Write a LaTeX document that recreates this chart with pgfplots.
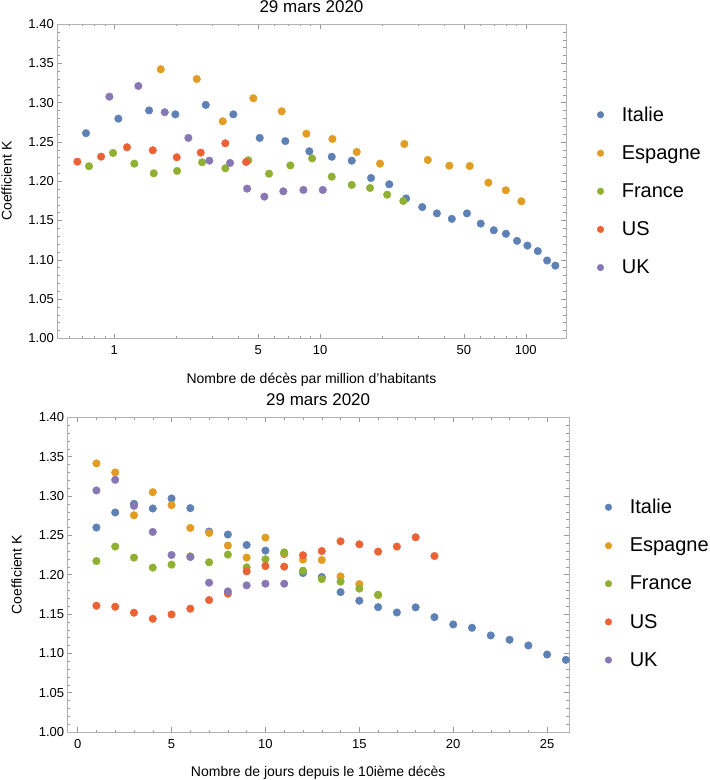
\documentclass[border=0pt]{standalone}
\usepackage{fontspec}
\setmainfont{Liberation Sans}
\usepackage{pgfplots}
\pgfplotsset{compat=1.18}

\definecolor{cIt}{rgb}{0.368417,0.506779,0.709798}
\definecolor{cEs}{rgb}{0.880722,0.611041,0.142051}
\definecolor{cFr}{rgb}{0.560181,0.691569,0.194885}
\definecolor{cUS}{rgb}{0.922526,0.385626,0.209179}
\definecolor{cUK}{rgb}{0.528488,0.470624,0.701351}

\pgfplotsset{
  every axis title shift=0pt,
  kplot/.style={
    scale only axis,
    ymin=1, ymax=1.4,
    ytick={1,1.05,1.1,1.15,1.2,1.25,1.3,1.35,1.4},
    minor y tick num=4,
    yticklabel style={/pgf/number format/.cd,fixed,fixed zerofill,precision=2},
    /pgf/number format/assume math mode=true,
    tick align=inside,
    axis line style={black!30},
    every tick/.style={black!40},
    major tick length=4.5pt, minor tick length=2.4pt,
    tick label style={font=\fontsize{13}{13}\selectfont},
    xticklabel style={yshift=-4pt},
    title style={font=\fontsize{17}{17}\selectfont, at={(0.5,1)}, anchor=base, yshift=11.4pt},
    xlabel style={font=\fontsize{14}{14}\selectfont, at={(0.5,0)}, anchor=base, yshift=-45pt},
    ylabel style={font=\fontsize{14}{14}\selectfont, at={(0,0.5)}, rotate=0, anchor=base},
    ylabel={Coefficient K},
    title={29 mars 2020},
    legend cell align=left,
    legend style={draw=none, fill=none, anchor=west, inner sep=0pt,
      font=\fontsize{20}{20}\selectfont, row sep=22.8pt, column sep=18pt,
      nodes={inner sep=0pt}},
    legend image code/.code={\draw[mark repeat=2,mark phase=2,#1,mark size=3.3pt]
      plot coordinates {(0pt,0pt) (5pt,0pt) (10pt,0pt)};},
    only marks,
    mark=*,
    mark size=3.8pt,
    cycle list={
      {cIt,mark=*,mark options={draw=none,fill=cIt}},
      {cEs,mark=*,mark options={draw=none,fill=cEs}},
      {cFr,mark=*,mark options={draw=none,fill=cFr}},
      {cUS,mark=*,mark options={draw=none,fill=cUS}},
      {cUK,mark=*,mark options={draw=none,fill=cUK}}},
  }
}

\begin{document}
\begin{tikzpicture}
\useasboundingbox (0pt,0pt) rectangle (710pt,780pt);

% --- deces par million (echelle log)
\begin{axis}[kplot,
  at={(57.3pt,441.7pt)}, anchor=south west,
  width=508.4pt, height=314.3pt,
  xmode=log, xmin=0.528, xmax=156.4,
  xtick={1,5,10,50,100}, xticklabels={1,5,10,50,100},
  minor xtick={0.6,0.7,0.8,0.9,2,3,4,6,7,8,9,20,30,40,60,70,80,90},
  xlabel={Nombre de décès par million d'habitants},
  ylabel style={yshift=45.6pt},
  legend style={at={(1.0616,0.4687)}},
]
\addplot table {
0.728 1.261
1.046 1.2795
1.475 1.290
1.980 1.285
2.782 1.297
3.789 1.285
5.09 1.255
6.78 1.251
8.87 1.238
11.40 1.231
14.26 1.226
17.7 1.204
21.7 1.196
26.2 1.178
31.4 1.167
37.0 1.159
43.7 1.152
51.8 1.159
60.4 1.146
69.9 1.1375
80.1 1.133
90.7 1.124
101.9 1.118
114.4 1.111
127 1.099
139.3 1.0925
};
\addplot table {
1.681 1.3424
2.515 1.330
3.365 1.2762
4.74 1.3055
6.51 1.2889
8.58 1.2604
11.48 1.2537
15.08 1.2372
19.57 1.2223
25.7 1.2473
33.4 1.2270
42.5 1.2197
53.4 1.2193
65.8 1.1981
80.0 1.1884
95.2 1.1744
};
\addplot table {
0.753 1.2190
0.9855 1.2359
1.251 1.2223
1.554 1.2100
2.018 1.2130
2.670 1.2240
3.464 1.2164
4.48 1.2266
5.65 1.2095
7.17 1.2200
9.15 1.2289
11.40 1.2057
14.26 1.1952
17.5 1.1913
21.2 1.1828
25.4 1.1748
};
\addplot table {
0.661 1.2248
0.862 1.2312
1.152 1.2431
1.537 1.2393
2.011 1.2304
2.63 1.2363
3.464 1.2482
4.37 1.2244
};
\addplot table {
0.946 1.3075
1.308 1.3211
1.758 1.2877
2.290 1.2550
2.896 1.2261
3.652 1.2232
4.42 1.1905
5.36 1.1803
6.63 1.1871
8.30 1.1888
10.31 1.1888
};
\legend{Italie,Espagne,France,US,UK}
\end{axis}

% --- jours depuis le 10ieme deces
\begin{axis}[kplot,
  at={(67.7pt,48pt)}, anchor=south west,
  width=501pt, height=314.7pt,
  xmin=-0.53, xmax=26.15,
  xtick={0,5,10,15,20,25},
  minor x tick num=4,
  xlabel={Nombre de jours depuis le 10ième décès},
  ylabel style={yshift=46pt},
  legend style={at={(1.0724,0.472)}},
]
\addplot table {
1 1.2599
2 1.2790
3 1.2900
4 1.2841
5 1.2968
6 1.2845
7 1.2548
8 1.2510
9 1.2377
10 1.2306
11 1.2263
12 1.2020
13 1.1970
14 1.1778
15 1.1669
16 1.1587
17 1.1519
18 1.1584
19 1.1460
20 1.1367
21 1.1325
22 1.1227
23 1.1172
24 1.1100
25 1.0985
26 1.0917
};
\addplot table {
1 1.3414
2 1.3299
3 1.2755
4 1.3048
5 1.2883
6 1.2594
7 1.2530
8 1.2370
9 1.2217
10 1.2471
11 1.2270
12 1.2191
13 1.2186
14 1.1978
15 1.1880
16 1.1740
};
\addplot table {
1 1.2173
2 1.2357
3 1.2217
4 1.2089
5 1.2127
6 1.2233
7 1.2157
8 1.2255
9 1.2093
10 1.2195
11 1.2284
12 1.2050
13 1.1944
14 1.1911
15 1.1822
16 1.1745
};
\addplot table {
1 1.1605
2 1.1592
3 1.1516
4 1.1439
5 1.1494
6 1.1567
7 1.1677
8 1.1758
9 1.2042
10 1.2110
11 1.2102
12 1.2246
13 1.2300
14 1.2424
15 1.2386
16 1.2293
17 1.2357
18 1.2475
19 1.2237
};
\addplot table {
1 1.3070
2 1.3205
3 1.2874
4 1.2543
5 1.2250
6 1.2224
7 1.1898
8 1.1787
9 1.1864
10 1.1885
11 1.1885
};
\legend{Italie,Espagne,France,US,UK}
\end{axis}
\end{tikzpicture}
\end{document}
